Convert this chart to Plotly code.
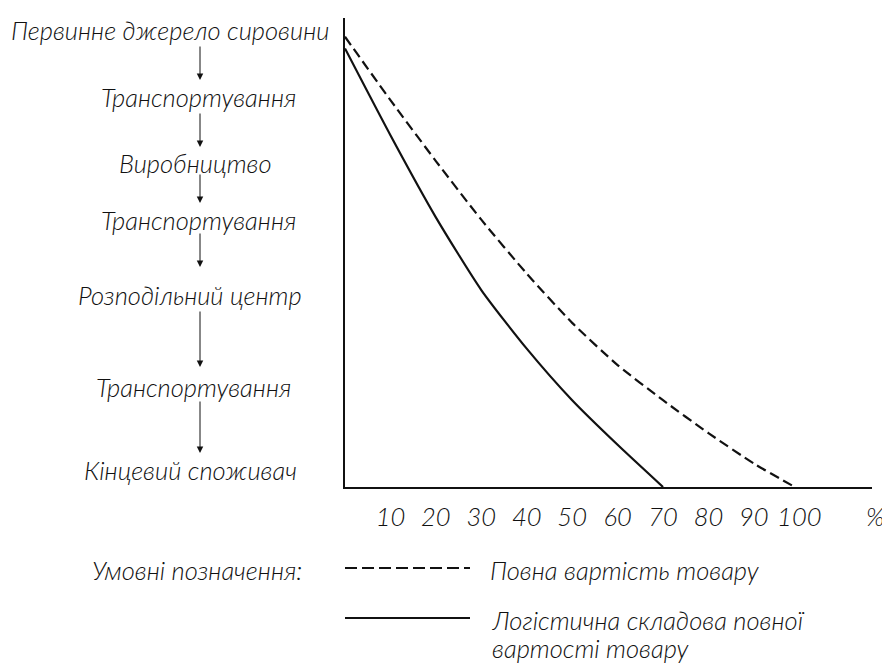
import plotly.graph_objects as go

# ---------------- data ----------------
chain_labels = ["Первинне джерело сировини", "Транспортування", "Виробництво",
                "Транспортування", "Розподільний центр", "Транспортування",
                "Кінцевий споживач"]

full_x = [0, 10, 20, 30, 40, 50, 60, 70, 80, 90, 99]
full_y = [96, 82.5, 69.5, 57, 45.5, 35, 26, 18.5, 11.5, 5, 0]

logi_x = [0, 10, 20, 30, 40, 50, 60, 70]
logi_y = [93.5, 75, 57.5, 42, 29.5, 18.5, 9, 0]

tick_vals = [10, 20, 30, 40, 50, 60, 70, 80, 90, 100]
tick_text = ["10", "20", "30", "40", "50", "60", "70", "80", "90", "100"]
unit_label = "%"

legend_title = "Умовні позначення:"
legend_full = "Повна вартість товару"
legend_logi = ["Логістична складова повної", "вартості товару"]

# ---------------- layout helpers (window pixel coords) ----------------
OFF = 8                      # default page body margin
WIN_W, WIN_H = 890, 665
W, H = WIN_W - OFF, WIN_H - OFF
L, R, T, B = 345, 872, 18, 487   # plot area in window pixels


def px(x):
    return (x - L) / (R - L)


def py(y):
    return (B - y) / (B - T)


FONT = dict(family="Lato, DejaVu Sans", size=25.5, color="#111111", style="italic", weight=300)

fig = go.Figure()
fig.add_trace(go.Scatter(x=full_x, y=full_y, mode="lines",
                         line=dict(color="#111111", width=2.2, dash="10px,5px",
                                   shape="spline", smoothing=0.6),
                         showlegend=False, hoverinfo="skip"))
fig.add_trace(go.Scatter(x=logi_x, y=logi_y, mode="lines",
                         line=dict(color="#111111", width=2.2,
                                   shape="spline", smoothing=0.6),
                         showlegend=False, hoverinfo="skip"))

annotations = []
label_pos = [(170, 30), (198, 97), (195, 163), (198, 220), (190, 295), (193, 387), (190, 470)]
for text, (xc, yc) in zip(chain_labels, label_pos):
    annotations.append(dict(x=px(xc), y=py(yc), xref="paper", yref="paper", text=text,
                            showarrow=False, font=FONT, xanchor="center", yanchor="middle"))

arrow_spans = [(45, 80), (112, 147), (173, 203), (232, 267), (310, 367), (400, 453)]
for y1, y2 in arrow_spans:
    annotations.append(dict(x=px(200), y=py(y2), xref="paper", yref="paper", text="",
                            showarrow=True, ax=0, ay=-(y2 - y1), arrowhead=2,
                            arrowsize=1.3, arrowwidth=1, arrowcolor="#111111"))

annotations.append(dict(x=px(875), y=py(516), xref="paper", yref="paper", text=unit_label,
                        showarrow=False, font=FONT, xanchor="center", yanchor="middle"))

annotations.append(dict(x=px(90), y=py(570), xref="paper", yref="paper", text=legend_title,
                        showarrow=False, font=FONT, xanchor="left", yanchor="middle"))
annotations.append(dict(x=px(488), y=py(570), xref="paper", yref="paper", text=legend_full,
                        showarrow=False, font=FONT, xanchor="left", yanchor="middle"))
for text, yc in zip(legend_logi, (620, 648)):
    annotations.append(dict(x=px(490), y=py(yc), xref="paper", yref="paper", text=text,
                            showarrow=False, font=FONT, xanchor="left", yanchor="middle"))

shapes = [
    dict(type="line", xref="paper", yref="paper", x0=px(345), x1=px(470),
         y0=py(568), y1=py(568), line=dict(color="#111111", width=2.2, dash="12px,5px")),
    dict(type="line", xref="paper", yref="paper", x0=px(345), x1=px(470),
         y0=py(618), y1=py(618), line=dict(color="#111111", width=2.2)),
]

fig.update_layout(
    width=W, height=H,
    margin=dict(l=L - OFF, r=WIN_W - R, t=T - OFF, b=WIN_H - B, pad=0),
    paper_bgcolor="white", plot_bgcolor="white",
    showlegend=False,
    annotations=annotations, shapes=shapes,
    xaxis=dict(range=[0, 116], showgrid=False, zeroline=False, showline=True,
               linecolor="#111111", linewidth=2, tickmode="array", tickvals=tick_vals,
               ticktext=tick_text, ticks="", tickfont=FONT, ticklabelstandoff=6),
    yaxis=dict(range=[0, 100], showgrid=False, zeroline=False, showline=True,
               linecolor="#111111", linewidth=2, showticklabels=False, ticks=""),
)

fig.write_html("out.html")
